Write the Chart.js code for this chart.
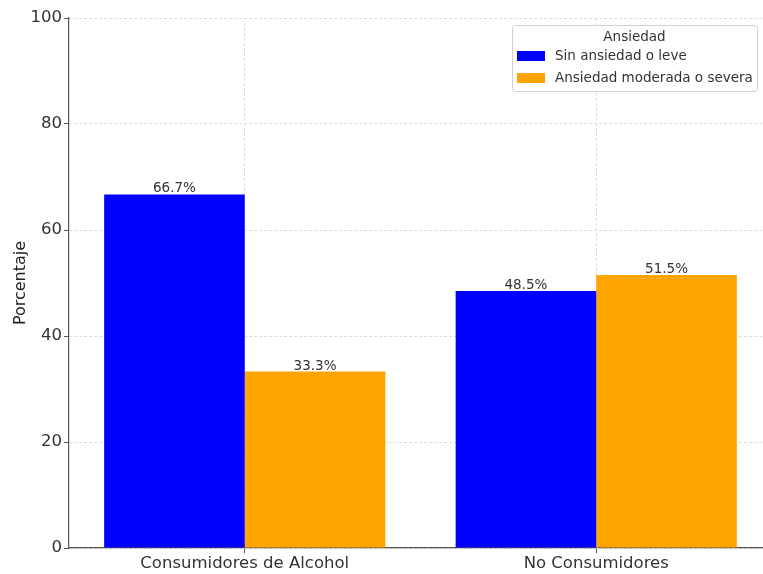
<!DOCTYPE html>
<html>
<head>
<meta charset="utf-8">
<script src="https://cdn.jsdelivr.net/npm/chart.js@4"></script>
<style>
  html, body { margin: 0; padding: 0; background: #fff; overflow: hidden; }
  #wrap { width: 776px; height: 574px; }
</style>
</head>
<body>
<div id="wrap"><canvas id="chart-1" width="776" height="574"></canvas></div>
<script>
const categories = ['Consumidores de Alcohol', 'No Consumidores'];
const sinAnsiedad = [66.7, 48.5];
const ansiedadModerada = [33.3, 51.5];
const yTicks = [0, 20, 40, 60, 80, 100];

const FONT = 'DejaVu Sans';

// value labels above each bar
const barLabels = {
  id: 'barLabels',
  afterDatasetsDraw(chart) {
    const ctx = chart.ctx;
    ctx.save();
    ctx.font = '13.5px "' + FONT + '"';
    ctx.fillStyle = '#333';
    ctx.textAlign = 'center';
    ctx.textBaseline = 'alphabetic';
    chart.data.datasets.forEach((ds, i) => {
      chart.getDatasetMeta(i).data.forEach((bar, j) => {
        ctx.fillText(ds.data[j].toFixed(1) + '%', bar.x, bar.y - 2);
      });
    });
    ctx.restore();
  }
};

// boxed legend in the upper right corner of the plot
const boxLegend = {
  id: 'boxLegend',
  afterDraw(chart) {
    const ctx = chart.ctx;
    const x = 512, y = 25, w = 245, h = 66;
    ctx.save();
    ctx.fillStyle = 'rgba(255,255,255,0.85)';
    ctx.strokeStyle = '#d0d0d0';
    ctx.lineWidth = 1;
    ctx.beginPath();
    ctx.roundRect(x + 0.5, y + 0.5, w, h, 3);
    ctx.fill();
    ctx.stroke();
    ctx.font = '13.5px "' + FONT + '"';
    ctx.fillStyle = '#333';
    ctx.textBaseline = 'middle';
    ctx.textAlign = 'center';
    ctx.fillText('Ansiedad', x + w / 2, y + 12);
    ctx.textAlign = 'left';
    chart.data.datasets.forEach((ds, i) => {
      const ry = y + 31 + i * 22;
      ctx.fillStyle = ds.backgroundColor;
      ctx.fillRect(x + 5, ry - 5, 28, 10);
      ctx.fillStyle = '#333';
      ctx.fillText(ds.label, x + 43, ry);
    });
    ctx.restore();
  }
};

new Chart(document.getElementById('chart-1'), {
  type: 'bar',
  data: {
    labels: categories,
    datasets: [{
      label: 'Sin ansiedad o leve',
      data: sinAnsiedad,
      backgroundColor: '#0000ff'
    }, {
      label: 'Ansiedad moderada o severa',
      data: ansiedadModerada,
      backgroundColor: '#ffa500'
    }]
  },
  options: {
    responsive: false,
    animation: false,
    devicePixelRatio: 1,
    layout: { padding: { top: 18, right: 4, left: 0, bottom: 0 } },
    categoryPercentage: 0.8,
    barPercentage: 1.0,
    plugins: {
      legend: { display: false },
      tooltip: { enabled: false }
    },
    scales: {
      x: {
        z: 1,
        grid: {
          offset: false,
          color: '#dddddd',
          tickColor: '#555',
          tickLength: 5
        },
        border: { color: '#555', width: 1.2, dash: [3, 2] },
        ticks: { color: '#333', font: { family: FONT, size: 16.5 }, padding: 1 },
        afterFit(s) { s.height = 26; }
      },
      y: {
        z: 1,
        min: 0,
        max: 100,
        afterBuildTicks(s) { s.ticks = yTicks.map(v => ({ value: v })); },
        grid: {
          color: '#dddddd',
          tickColor: '#555',
          tickLength: 5
        },
        border: { color: '#555', width: 1.2, dash: [3, 2] },
        ticks: { color: '#333', font: { family: FONT, size: 16.5 }, padding: 2 },
        title: {
          display: true,
          text: 'Porcentaje',
          color: '#222',
          font: { family: FONT, size: 16 },
          padding: { top: 11, bottom: 0 }
        },
        afterFit(s) { s.width = 69; }
      }
    }
  },
  plugins: [barLabels, boxLegend]
});
</script>
</body>
</html>
